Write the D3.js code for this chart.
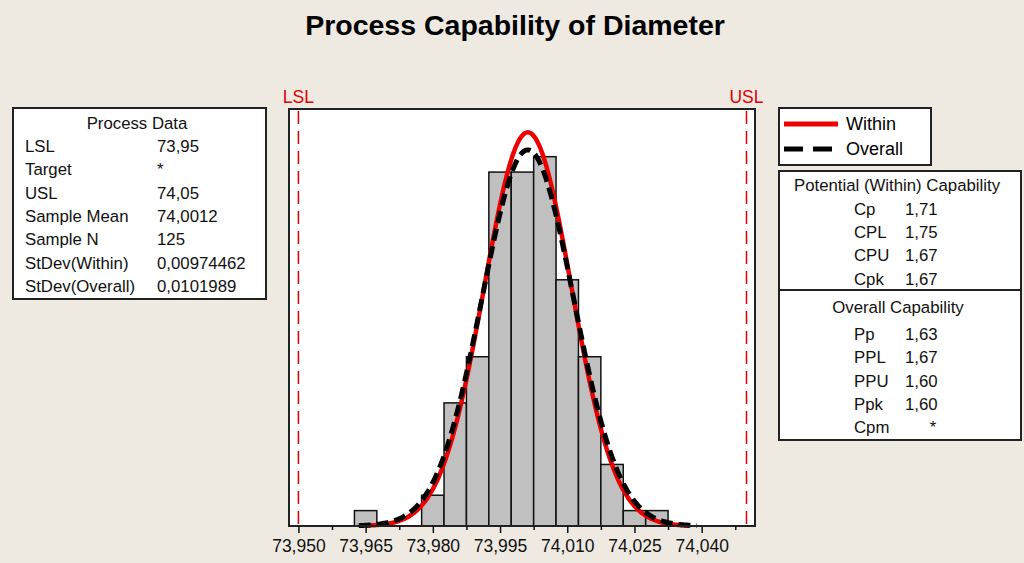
<!DOCTYPE html>
<html>
<head>
<meta charset="utf-8">
<script src="https://cdn.jsdelivr.net/npm/d3@7"></script>
<style>
  body { margin: 0; background: #eeeae2; }
  svg { display: block; font-family: "Liberation Sans", Arial, sans-serif; }
</style>
</head>
<body>
<div id="chart"></div>
<script>
// histogram bins (center of bin, count)
var binCenters = [73.965, 73.970, 73.975, 73.980, 73.985, 73.990, 73.995, 74.000, 74.005, 74.010, 74.015, 74.020, 74.025, 74.030];
var binCounts  = [1, 0, 0, 2, 8, 11, 23, 23, 24, 16, 11, 4, 1, 1];
var binWidth = 0.005;

var tickValues  = [73.950, 73.965, 73.980, 73.995, 74.010, 74.025, 74.040];
var minorTicks  = [73.9575, 73.9725, 73.9875, 74.0025, 74.0175, 74.0325, 74.0475];

var specNames  = ["LSL", "USL"];
var specValues = [73.95, 74.05];

var sampleMean = 74.0012, sampleN = 125;
var stdevWithin = 0.00974462, stdevOverall = 0.0101989;

var processLabels = ["LSL", "Target", "USL", "Sample Mean", "Sample N", "StDev(Within)", "StDev(Overall)"];
var processValues = ["73,95", "*", "74,05", "74,0012", "125", "0,00974462", "0,0101989"];

var potentialLabels = ["Cp", "CPL", "CPU", "Cpk"];
var potentialValues = ["1,71", "1,75", "1,67", "1,67"];
var overallLabels = ["Pp", "PPL", "PPU", "Ppk", "Cpm"];
var overallValues = ["1,63", "1,67", "1,60", "1,60", "*"];

var W = 1024, H = 563;
var plot = {left: 289, right: 755, top: 109, bottom: 526};

var svg = d3.select("#chart").append("svg")
    .attr("width", W)
    .attr("height", H);

svg.append("rect").attr("width", W).attr("height", H).attr("fill", "#eeeae2");

// title
svg.append("text")
  .attr("x", 515).attr("y", 35)
  .attr("text-anchor", "middle")
  .attr("font-size", "28.5px")
  .attr("font-weight", "bold")
  .text("Process Capability of Diameter");

var x = d3.scaleLinear()
  .domain([73.9479, 74.0519])
  .range([plot.left, plot.right]);
var y = d3.scaleLinear()
  .domain([0, 27.1])
  .range([plot.bottom, plot.top]);

// plot frame
svg.append("rect")
  .attr("x", plot.left).attr("y", plot.top)
  .attr("width", plot.right - plot.left)
  .attr("height", plot.bottom - plot.top)
  .attr("fill", "white");

// bars
var bins = binCenters.map((c, i) => ({c: c, n: binCounts[i]})).filter(d => d.n > 0);
svg.append("g")
  .selectAll("rect")
  .data(bins)
  .enter()
  .append("rect")
    .attr("x", d => x(d.c - binWidth / 2))
    .attr("width", d => x(d.c + binWidth / 2) - x(d.c - binWidth / 2))
    .attr("y", d => y(d.n))
    .attr("height", d => y(0) - y(d.n))
    .attr("fill", "#c0c0c0")
    .attr("stroke", "#111")
    .attr("stroke-width", 1.5);

// fitted normal curves, scaled to counts
function normalPoints(mu, sd) {
  var lo = mu - 3.7 * sd, hi = mu + 3.7 * sd;
  return d3.range(lo, hi + 1e-9, (hi - lo) / 200).map(function(v) {
    var z = (v - mu) / sd;
    return [v, sampleN * binWidth * Math.exp(-0.5 * z * z) / (sd * Math.sqrt(2 * Math.PI))];
  });
}
var line = d3.line().x(d => x(d[0])).y(d => y(d[1])).curve(d3.curveBasis);

svg.append("path")
  .attr("d", line(normalPoints(sampleMean, stdevWithin)))
  .attr("fill", "none")
  .attr("stroke", "#ee0000")
  .attr("stroke-width", 4.5);

svg.append("path")
  .attr("d", line(normalPoints(sampleMean, stdevOverall)))
  .attr("fill", "none")
  .attr("stroke", "#000")
  .attr("stroke-width", 5)
  .attr("stroke-dasharray", "12,6");

// spec limits
specValues.forEach(function(v, i) {
  svg.append("line")
    .attr("x1", x(v)).attr("x2", x(v))
    .attr("y1", plot.top + 2).attr("y2", plot.bottom)
    .attr("stroke", "#e00000")
    .attr("stroke-width", 1.5)
    .attr("stroke-dasharray", "13,7");
  svg.append("text")
    .attr("x", x(v)).attr("y", 103)
    .attr("text-anchor", "middle")
    .attr("font-size", "17.5px")
    .attr("fill", "#e00000")
    .text(specNames[i]);
});

svg.append("rect")
  .attr("x", plot.left).attr("y", plot.top)
  .attr("width", plot.right - plot.left)
  .attr("height", plot.bottom - plot.top)
  .attr("fill", "none")
  .attr("stroke", "#222")
  .attr("stroke-width", 2);

// x axis
var xAxis = d3.axisBottom(x)
  .tickValues(tickValues)
  .tickSize(7)
  .tickPadding(7)
  .tickFormat(d => d3.format(".3f")(d).replace(".", ","));
var gx = svg.append("g")
  .attr("transform", "translate(0," + plot.bottom + ")")
  .call(xAxis);
gx.select(".domain").remove();
gx.selectAll("line").attr("stroke", "#111").attr("stroke-width", 1.5);
gx.selectAll("text").attr("font-size", "17.5px").attr("font-family", "Liberation Sans, Arial, sans-serif").attr("fill", "#111");

var gm = svg.append("g")
  .attr("transform", "translate(0," + plot.bottom + ")")
  .call(d3.axisBottom(x).tickValues(minorTicks).tickSize(4).tickFormat(""));
gm.select(".domain").remove();
gm.selectAll("line").attr("stroke", "#111").attr("stroke-width", 1.5);

// process data table
var left = svg.append("g").attr("font-size", "16.8px").attr("fill", "#111");
left.append("rect")
  .attr("x", 13).attr("y", 108).attr("width", 253).attr("height", 191)
  .attr("fill", "white").attr("stroke", "#222").attr("stroke-width", 2);
left.append("text").attr("x", 137).attr("y", 129).attr("text-anchor", "middle").text("Process Data");
processLabels.forEach(function(lab, i) {
  left.append("text").attr("x", 25).attr("y", 152 + i * 23.3).text(lab);
  left.append("text").attr("x", 157).attr("y", 152 + i * 23.3).text(processValues[i]);
});

// legend
var leg = svg.append("g").attr("font-size", "18px");
leg.append("rect")
  .attr("x", 779).attr("y", 108).attr("width", 152).attr("height", 57)
  .attr("fill", "white").attr("stroke", "#222").attr("stroke-width", 2);
leg.append("line").attr("x1", 784).attr("x2", 838).attr("y1", 124).attr("y2", 124)
  .attr("stroke", "#ee0000").attr("stroke-width", 5);
leg.append("line").attr("x1", 784).attr("x2", 834).attr("y1", 149).attr("y2", 149)
  .attr("stroke", "#000").attr("stroke-width", 5).attr("stroke-dasharray", "19,10");
leg.append("text").attr("x", 846).attr("y", 130).text("Within");
leg.append("text").attr("x", 846).attr("y", 155).text("Overall");

// capability table
var right = svg.append("g").attr("font-size", "16.8px").attr("fill", "#111");
right.append("rect")
  .attr("x", 779).attr("y", 171).attr("width", 242).attr("height", 269)
  .attr("fill", "white").attr("stroke", "#222").attr("stroke-width", 2);
right.append("line").attr("x1", 779).attr("x2", 1021).attr("y1", 290).attr("y2", 290)
  .attr("stroke", "#222").attr("stroke-width", 2);
right.append("text").attr("x", 897).attr("y", 191).attr("text-anchor", "middle").text("Potential (Within) Capability");
potentialLabels.forEach(function(lab, i) {
  right.append("text").attr("x", 854).attr("y", 215 + i * 23.2).text(lab);
  right.append("text").attr("x", 905).attr("y", 215 + i * 23.2).text(potentialValues[i]);
});
right.append("text").attr("x", 898).attr("y", 313).attr("text-anchor", "middle").text("Overall Capability");
overallLabels.forEach(function(lab, i) {
  var t = right.append("text").attr("y", 340 + i * 23.3).text(overallValues[i]);
  if (overallValues[i] === "*") t.attr("x", 933).attr("text-anchor", "middle");
  else t.attr("x", 905);
  right.append("text").attr("x", 854).attr("y", 340 + i * 23.3).text(lab);
});
</script>
</body>
</html>
